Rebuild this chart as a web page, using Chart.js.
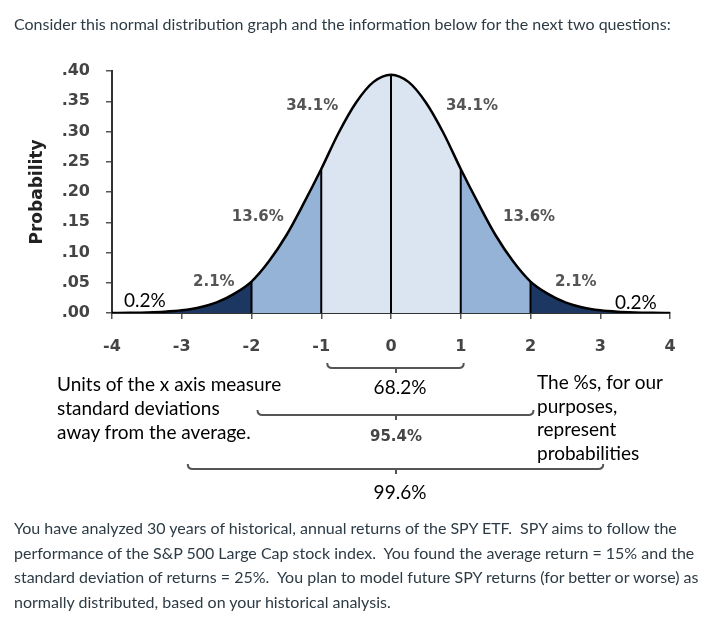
<!doctype html>
<html lang="en-us">
<head>
<meta charset="utf-8">
<title>Normal distribution</title>
<script src="https://cdn.jsdelivr.net/npm/chart.js"></script>
<style>
    html, body { margin: 0; padding: 0; background: #fff; }
    body { width: 728px; height: 637px; position: relative; overflow: hidden; }
    #chart { position: absolute; left: 0; top: 0; }
    .lato { font-family: Lato, sans-serif; color: #2d3b45; font-size: 16px; white-space: nowrap; position: absolute; left: 14px; }
    #head { top: 12px; line-height: 24px; }
    #para { top: 516px; line-height: 24.5px; }
    .note { position: absolute; font-family: Lato, sans-serif; font-size: 19px; color: #000; white-space: nowrap; }
    #noteLeft { left: 57px; top: 372px; line-height: 24px; }
    #noteRight { left: 537px; top: 370px; line-height: 23.7px; }
</style>
</head>
<body>
<canvas id="chart" width="728" height="637"></canvas>
<div id="head" class="lato">Consider this normal distribution graph and the information below for the next two questions:</div>
<div id="noteLeft" class="note">Units of the x axis measure<br>standard deviations<br>away from the average.</div>
<div id="noteRight" class="note">The %s, for our<br>purposes,<br>represent<br>probabilities</div>
<div id="para" class="lato">You have analyzed 30 years of historical, annual returns of the SPY ETF.&nbsp; SPY aims to follow the<br>performance of the S&amp;P 500 Large Cap stock index.&nbsp; You found the average return = 15% and the<br>standard deviation of returns = 25%.&nbsp; You plan to model future SPY returns (for better or worse) as<br>normally distributed, based on your historical analysis.</div>
<script>
// curve (x in standard deviations)
const curveX = [-4, -3.75, -3.5, -3.25, -3, -2.75, -2.5, -2.25, -2, -1.75, -1.5, -1.25, -1, -0.75, -0.5, -0.25,
                0, 0.25, 0.5, 0.75, 1, 1.25, 1.5, 1.75, 2, 2.25, 2.5, 2.75, 3, 3.25, 3.5, 3.75, 4];
const curveY = [0.0001, 0.0004, 0.0009, 0.002, 0.0044, 0.0091, 0.0175, 0.0317, 0.052, 0.0855, 0.1285, 0.1815, 0.238, 0.298, 0.348, 0.382,
                0.394, 0.382, 0.348, 0.298, 0.238, 0.1815, 0.1285, 0.0855, 0.052, 0.0317, 0.0175, 0.0091, 0.0044, 0.002, 0.0009, 0.0004, 0.0001];

const dividerX = [-2, -1, 0, 1, 2];

const xTickLabels = ['-4', '-3', '-2', '-1', '0', '1', '2', '3', '4'];
const yTickLabels = ['.00', '.05', '.10', '.15', '.20', '.25', '.30', '.35', '.40'];

const pctLabels = ['0.2%', '2.1%', '13.6%', '34.1%', '34.1%', '13.6%', '2.1%', '0.2%'];
const pctX = [-3.53, -2.54, -1.91, -1.13, 1.16, 1.98, 2.65, 3.51];
const pctY = [0.020, 0.051, 0.159, 0.342, 0.342, 0.159, 0.051, 0.0165];

const bracketFrom = [-1, -2, -3];
const bracketTo = [1, 2, 3];
const bracketLabels = ['68.2%', '95.4%', '99.6%'];

const points = curveX.map((x, i) => ({x: x, y: curveY[i]}));
function band(a, b) { return points.filter(p => p.x >= a && p.x <= b); }

const dark = '#1c3761', mid = '#95b3d7', light = '#dbe5f1';
const bands = [[-4, -2, dark], [-2, -1, mid], [-1, 1, light], [1, 2, mid], [2, 4, dark]];

let datasets = [];
datasets.push({data: points, borderColor: '#000', borderWidth: 2.5, fill: false, order: 0});
dividerX.forEach(x => {
    datasets.push({data: [{x: x, y: 0}, {x: x, y: curveY[curveX.indexOf(x)]}],
                   borderColor: '#000', borderWidth: 2, fill: false, order: 1});
});
bands.forEach(b => {
    datasets.push({data: band(b[0], b[1]), borderWidth: 0, borderColor: 'rgba(0,0,0,0)',
                   backgroundColor: b[2], fill: 'origin', order: 2});
});

const annotate = {
    id: 'annotate',
    afterDatasetsDraw(chart) {
        const ctx = chart.ctx, xs = chart.scales.x, ys = chart.scales.y;
        ctx.save();
        ctx.textAlign = 'center';
        ctx.textBaseline = 'middle';
        pctLabels.forEach((t, i) => {
            if (t === '0.2%') {
                ctx.font = '19px Lato';
                ctx.fillStyle = '#000';
            } else {
                ctx.font = 'bold 15px "DejaVu Sans"';
                ctx.fillStyle = '#555';
            }
            ctx.fillText(t, xs.getPixelForValue(pctX[i]), ys.getPixelForValue(pctY[i]));
        });
        const base = chart.chartArea.bottom;
        const lineOff = [55, 102, 156], labOff = [75, 124, 180];
        const xm = xs.getPixelForValue(0) + 5;
        ctx.strokeStyle = '#555';
        ctx.lineWidth = 2;
        bracketLabels.forEach((t, i) => {
            const x1 = xs.getPixelForValue(bracketFrom[i]) + 6;
            const x2 = xs.getPixelForValue(bracketTo[i]) + 3;
            const y = base + lineOff[i];
            ctx.beginPath();
            ctx.moveTo(x1, y - 5);
            ctx.quadraticCurveTo(x1, y, x1 + 5, y);
            ctx.lineTo(x2 - 5, y);
            ctx.quadraticCurveTo(x2, y, x2, y - 5);
            ctx.moveTo(xm, y);
            ctx.lineTo(xm, y + 5);
            ctx.stroke();
            if (i === 1) {
                ctx.font = 'bold 15px "DejaVu Sans"';
                ctx.fillStyle = '#444';
                ctx.fillText(t, xm, base + labOff[i]);
            } else {
                ctx.font = '19px Lato';
                ctx.fillStyle = '#000';
                ctx.fillText(t, xm + 4, base + labOff[i]);
            }
        });
        ctx.restore();
    }
};

new Chart(document.getElementById('chart'), {
    type: 'line',
    data: {datasets: datasets},
    plugins: [annotate],
    options: {
        responsive: false,
        animation: false,
        layout: {padding: {left: 0, right: 58, top: 71, bottom: 0}},
        elements: {
            point: {radius: 0},
            line: {cubicInterpolationMode: 'monotone'}
        },
        plugins: {legend: {display: false}, tooltip: {enabled: false}},
        scales: {
            x: {
                type: 'linear', min: -4, max: 4,
                afterFit: s => { s.height = 324; },
                grid: {drawOnChartArea: false, tickLength: 6, color: '#555', lineWidth: 1.5},
                border: {color: '#333', width: 2},
                ticks: {stepSize: 1, padding: 18, color: '#444', maxRotation: 0,
                        font: {family: 'DejaVu Sans', size: 16, weight: 'bold'},
                        callback: (v, i) => xTickLabels[i]}
            },
            y: {
                min: 0, max: 0.4,
                afterFit: s => { s.width = 112; },
                grid: {drawOnChartArea: false, tickLength: 6, color: '#555', lineWidth: 1.5},
                border: {color: '#333', width: 2},
                ticks: {stepSize: 0.05, padding: 16, color: '#444',
                        font: {family: 'DejaVu Sans', size: 16, weight: 'bold'},
                        callback: (v, i) => yTickLabels[i]},
                title: {display: true, text: 'Probability', color: '#222', padding: {top: 27},
                        font: {family: 'DejaVu Sans', size: 17, weight: 'bold'}}
            }
        }
    }
});
</script>
</body>
</html>
